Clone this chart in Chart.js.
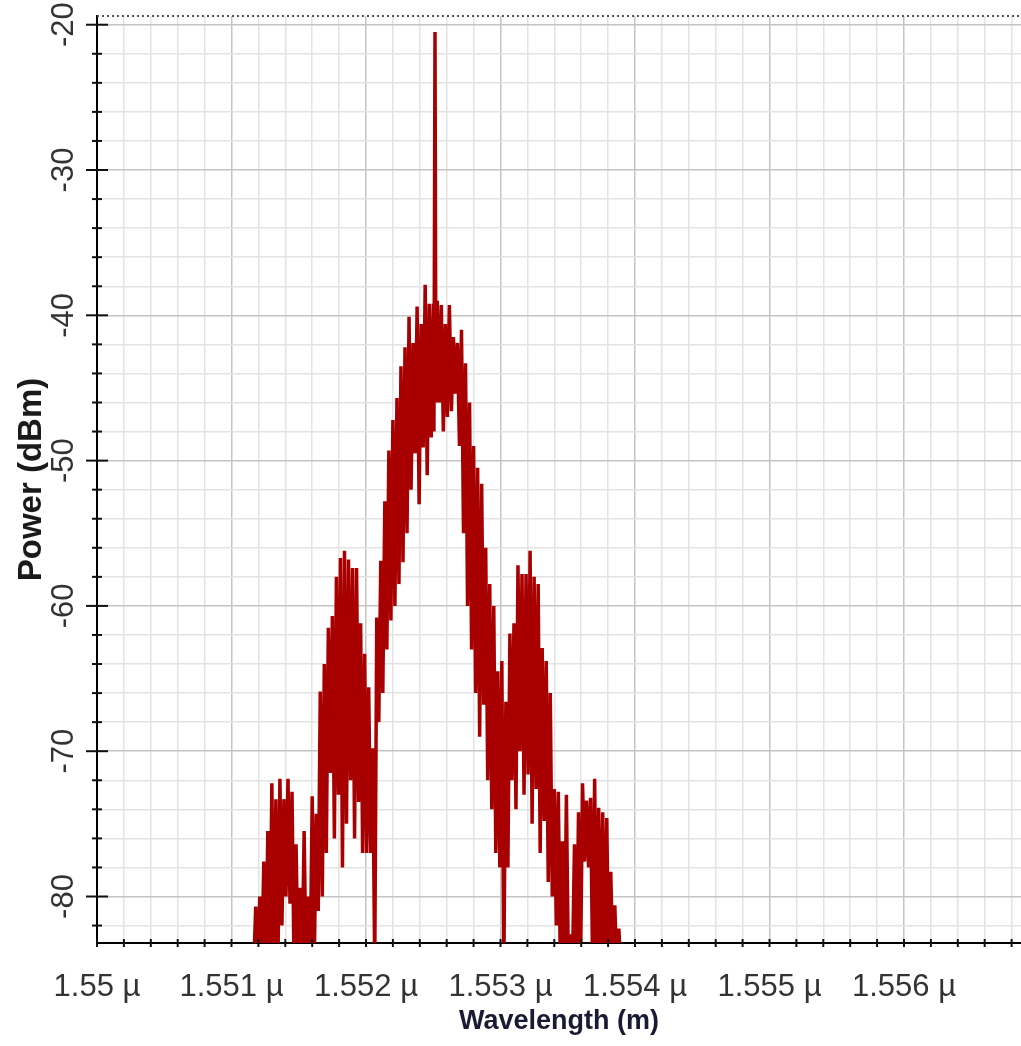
<!DOCTYPE html>
<html>
<head>
<meta charset="utf-8">
<title>Optical spectrum</title>
<script src="https://cdn.jsdelivr.net/npm/chart.js@4.4.1/dist/chart.umd.min.js"></script>
<style>
  html, body { margin: 0; padding: 0; background: #fff; }
  #wrap { width: 1021px; height: 1046px; }
</style>
</head>
<body>
<div id="wrap"><canvas id="spectrumChart" width="1021" height="1046"></canvas></div>
<script>
// Spectrum trace (wavelength in nm, power in dBm)
const wavelengthNm = [
    1550.000, 1551.165,
    1551.180, 1551.195, 1551.210, 1551.225, 1551.240, 1551.255, 1551.270, 1551.285,
    1551.300, 1551.315, 1551.330, 1551.345, 1551.360, 1551.375, 1551.390, 1551.405,
    1551.420, 1551.435, 1551.450, 1551.465, 1551.480, 1551.495, 1551.510, 1551.525,
    1551.540, 1551.555, 1551.570, 1551.585, 1551.600, 1551.615, 1551.630, 1551.645,
    1551.660, 1551.675, 1551.690, 1551.705, 1551.720, 1551.735, 1551.750, 1551.765,
    1551.780, 1551.795, 1551.810, 1551.825, 1551.840, 1551.855, 1551.870, 1551.885,
    1551.900, 1551.915, 1551.930, 1551.945, 1551.960, 1551.975, 1551.990, 1552.005,
    1552.020, 1552.035, 1552.050, 1552.065, 1552.080, 1552.095, 1552.110, 1552.125,
    1552.140, 1552.155, 1552.170, 1552.185, 1552.200, 1552.215, 1552.230, 1552.245,
    1552.260, 1552.275, 1552.290, 1552.305, 1552.320, 1552.335, 1552.350, 1552.365,
    1552.380, 1552.395, 1552.410, 1552.425, 1552.440, 1552.455, 1552.470, 1552.485,
    1552.500, 1552.505, 1552.513, 1552.520, 1552.530, 1552.545, 1552.560, 1552.575,
    1552.590, 1552.605, 1552.620, 1552.635, 1552.650, 1552.665, 1552.680, 1552.695,
    1552.710, 1552.725, 1552.740, 1552.755, 1552.770, 1552.785, 1552.800, 1552.815,
    1552.830, 1552.845, 1552.860, 1552.875, 1552.890, 1552.905, 1552.920, 1552.935,
    1552.950, 1552.965, 1552.980, 1552.995, 1553.010, 1553.025, 1553.040, 1553.055,
    1553.070, 1553.085, 1553.100, 1553.115, 1553.130, 1553.145, 1553.160, 1553.175,
    1553.190, 1553.205, 1553.220, 1553.235, 1553.250, 1553.265, 1553.280, 1553.295,
    1553.310, 1553.325, 1553.340, 1553.355, 1553.370, 1553.385, 1553.400, 1553.415,
    1553.430, 1553.445, 1553.460, 1553.475, 1553.490, 1553.505, 1553.520, 1553.535,
    1553.550, 1553.565, 1553.580, 1553.595, 1553.610, 1553.625, 1553.640, 1553.655,
    1553.670, 1553.685, 1553.700, 1553.715, 1553.730, 1553.745, 1553.760, 1553.775,
    1553.790, 1553.805, 1553.820, 1553.835, 1553.850, 1553.865, 1553.880, 1553.895,
    1556.870
];

const powerDbm = [
    -85, -85,
    -80.7, -85, -80.0, -85, -77.6, -85, -75.5, -85,
    -72.2, -85, -73.3, -85, -71.9, -82, -73.3, -80,
    -71.9, -80.5, -72.8, -85, -76.4, -85, -79.4, -85,
    -75.5, -85, -80.0, -85, -73.1, -85, -74.3, -81,
    -65.9, -80, -64.0, -77, -61.5, -71.5, -60.7, -76,
    -58.0, -73, -56.7, -78, -56.2, -75, -56.8, -72,
    -57.4, -76, -57.4, -73.5, -61.2, -77, -63.3, -77,
    -65.6, -77, -69.8, -85, -60.8, -68, -56.9, -66,
    -52.8, -63, -49.3, -61, -47.2, -60, -45.7, -58.5,
    -43.5, -57, -42.2, -55, -40.1, -52, -41.9, -49.5,
    -39.4, -53, -40.6, -49.1, -37.9, -51, -39.2, -48.4,
    -39.2, -48, -20.5, -46, -39.0, -46, -39.3, -48,
    -40.6, -47, -39.3, -46.6, -41.5, -45.4, -41.9, -49,
    -41.0, -55, -43.3, -60, -46.0, -63, -49.0, -66,
    -50.5, -69, -51.6, -66.8, -56.0, -72, -58.5, -74,
    -60.0, -77, -64.5, -78, -63.8, -85, -66.6, -78,
    -61.9, -72, -61.2, -74, -57.2, -70, -57.8, -73,
    -57.8, -71.6, -56.2, -75, -58.0, -72.6, -58.5, -77,
    -62.9, -74.8, -63.8, -79, -66.0, -80, -72.6, -82,
    -72.8, -85, -76.2, -85, -73.0, -85, -82.6, -85,
    -76.4, -85, -74.2, -85, -72.2, -77.6, -73.4, -78,
    -73.2, -85, -71.9, -85, -73.9, -85, -74.2, -85,
    -74.6, -85, -78.3, -85, -80.6, -85, -82.2, -85,
    -85
];

// Axis ranges and tick steps
const xMin = 1550, xMax = 1556.87, xStep = 0.2;
const yMin = -83.2, yMax = -19.4, yStep = 2;

const traceColor = '#a80000';
const fontFamily = '"Liberation Sans", Arial, sans-serif';

function isMajor(value, every) {
    const r = value / every;
    return Math.abs(r - Math.round(r)) < 1e-6;
}

// Ticks crossing the axis lines and the dotted top frame
const axisMarks = {
    id: 'axisMarks',
    afterDraw(chart) {
        const { ctx, chartArea: a, scales: { x, y } } = chart;
        ctx.save();
        ctx.strokeStyle = '#111';
        ctx.lineWidth = 2;
        y.ticks.forEach(t => {
            const py = y.getPixelForValue(t.value);
            const len = isMajor(t.value, 10) ? 11 : 5;
            ctx.beginPath();
            ctx.moveTo(a.left - len, py);
            ctx.lineTo(a.left + len, py);
            ctx.stroke();
        });
        x.ticks.forEach(t => {
            const px = x.getPixelForValue(t.value);
            ctx.beginPath();
            ctx.moveTo(px, a.bottom - 4);
            ctx.lineTo(px, a.bottom + 4);
            ctx.stroke();
        });
        ctx.strokeStyle = '#555';
        ctx.setLineDash([2, 3]);
        ctx.beginPath();
        ctx.moveTo(a.left, a.top);
        ctx.lineTo(a.right, a.top);
        ctx.stroke();
        ctx.restore();
    }
};

const points = wavelengthNm.map((w, i) => ({ x: w, y: powerDbm[i] }));

new Chart(document.getElementById('spectrumChart'), {
    type: 'line',
    data: {
        datasets: [{
            data: points,
            borderColor: traceColor,
            borderWidth: 3.5,
            pointRadius: 0,
            tension: 0,
            fill: false
        }]
    },
    options: {
        responsive: false,
        animation: false,
        devicePixelRatio: 1,
        layout: { padding: { top: 16, right: 0, bottom: 0, left: 0 } },
        plugins: { legend: { display: false }, tooltip: { enabled: false } },
        scales: {
            x: {
                type: 'linear',
                min: xMin,
                max: xMax,
                afterFit: scale => { scale.height = 103; },
                border: { color: '#000', width: 2 },
                grid: {
                    drawTicks: true,
                    tickLength: 26,
                    tickColor: 'rgba(0,0,0,0)',
                    lineWidth: 1.5,
                    color: c => isMajor(c.tick.value, 1) ? '#c4c4c4' : '#e3e3e3'
                },
                ticks: {
                    stepSize: xStep,
                    includeBounds: false,
                    autoSkip: false,
                    maxRotation: 0,
                    minRotation: 0,
                    padding: 0,
                    color: '#333',
                    font: { family: fontFamily, size: 31 },
                    callback: v => isMajor(v, 1) ? String(Math.round(v) / 1000) + ' \u00b5' : ''
                },
                title: {
                    display: true,
                    text: 'Wavelength (m)',
                    color: '#1a1a33',
                    font: { family: fontFamily, size: 27, weight: 'bold' },
                    padding: { top: 0, bottom: 8 }
                }
            },
            y: {
                min: yMin,
                max: yMax,
                afterFit: scale => { scale.width = 97; },
                border: { color: '#000', width: 2 },
                grid: {
                    drawTicks: true,
                    tickLength: 10,
                    tickColor: 'rgba(0,0,0,0)',
                    lineWidth: 1.5,
                    color: c => isMajor(c.tick.value, 10) ? '#c4c4c4' : '#e3e3e3'
                },
                ticks: {
                    stepSize: yStep,
                    includeBounds: false,
                    autoSkip: false,
                    minRotation: 90,
                    maxRotation: 90,
                    crossAlign: 'center',
                    padding: 0,
                    color: '#333',
                    font: { family: fontFamily, size: 31, lineHeight: 1 },
                    callback: v => isMajor(v, 10) ? String(v) : ''
                },
                title: {
                    display: true,
                    text: 'Power (dBm)',
                    color: '#1a1a1a',
                    font: { family: fontFamily, size: 33, weight: 'bold' },
                    padding: { top: 12, bottom: 0 }
                }
            }
        }
    },
    plugins: [axisMarks]
});
</script>
</body>
</html>
